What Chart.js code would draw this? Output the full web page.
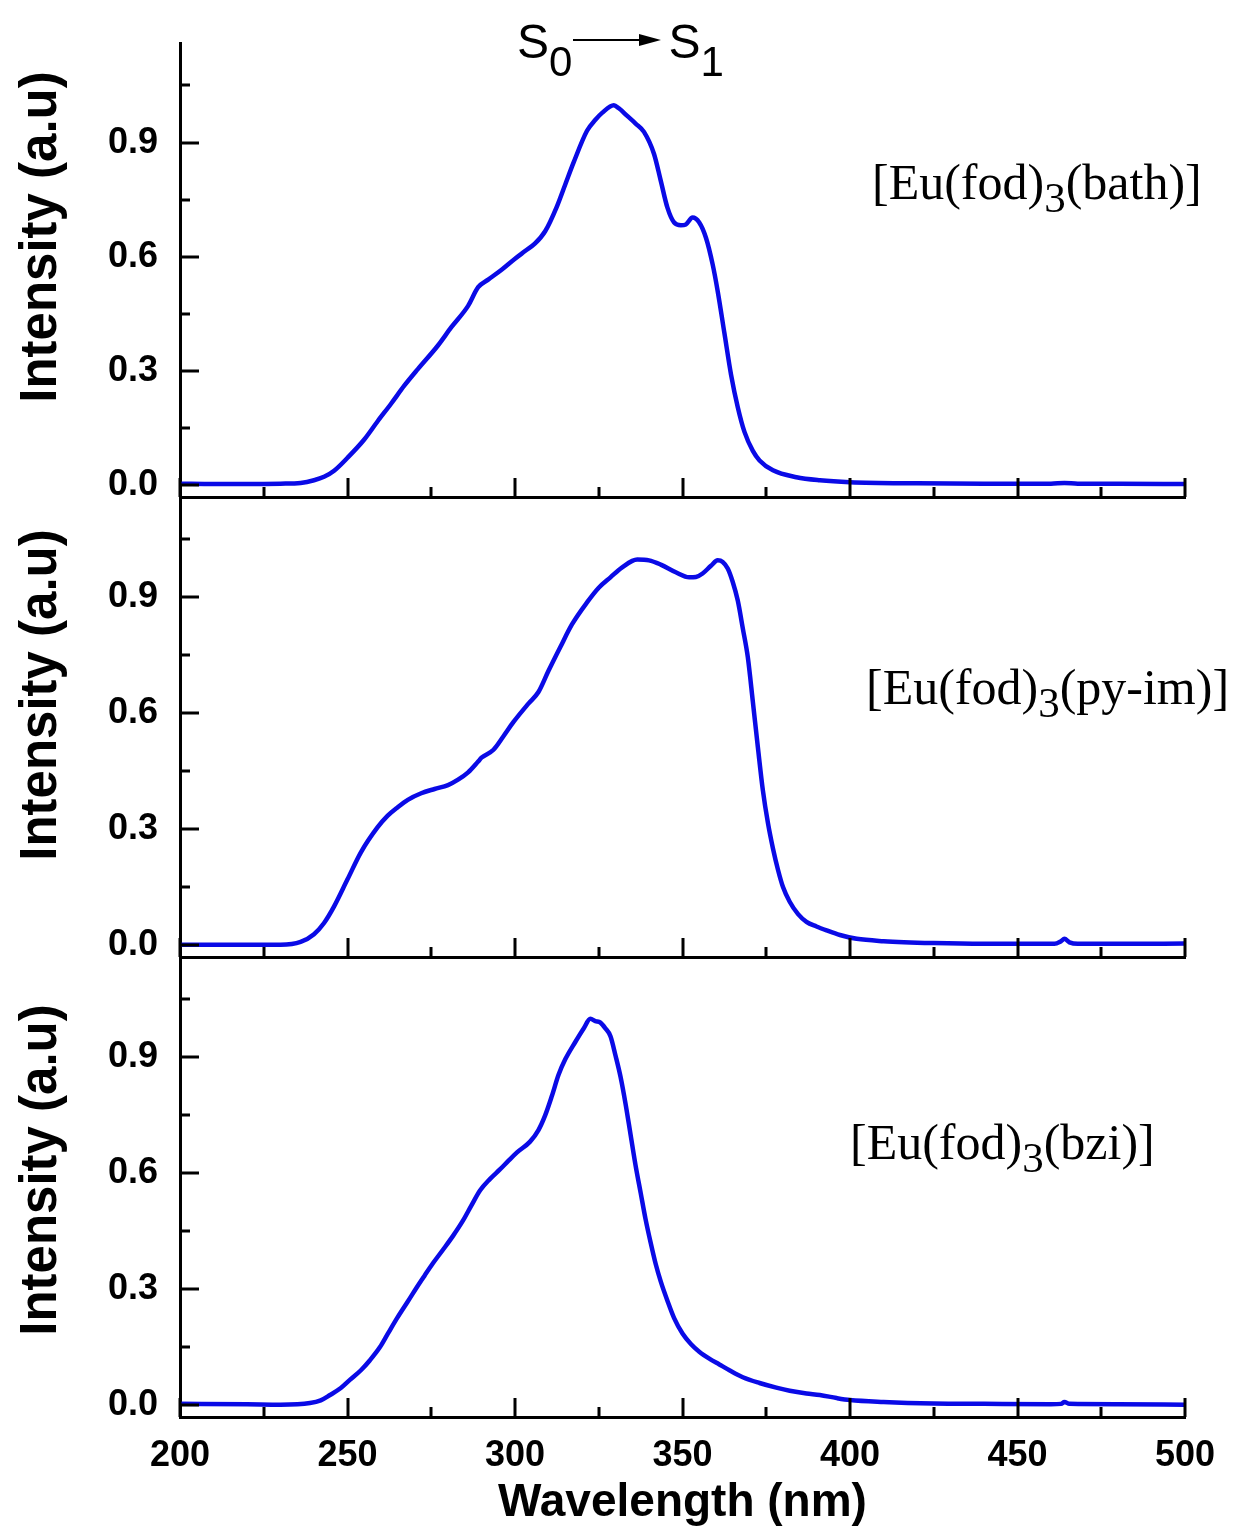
<!DOCTYPE html>
<html>
<head>
<meta charset="utf-8">
<script src="https://cdn.jsdelivr.net/npm/chart.js@4.4.1/dist/chart.umd.min.js"></script>
<style>
  body { margin: 0; background: #fff; }
  #wrap { position: relative; width: 1237px; height: 1532px; overflow: hidden; }
  #wrap canvas { position: absolute; left: 0; top: 0; }
  .ytitle {
    position: absolute; left: 38px;
    font: bold 51px 'Liberation Sans', Arial, sans-serif;
    white-space: nowrap; line-height: 1;
    transform: translate(-50%, -50%) rotate(-90deg);
  }
  .cmp {
    position: absolute; white-space: nowrap; line-height: 1;
    font: 50px 'Liberation Serif', 'Times New Roman', serif;
  }
  .cmp sub { font-size: 43px; vertical-align: -13px; line-height: 0; }
  #trans {
    position: absolute; left: 517px; top: 14px; white-space: nowrap; line-height: 1;
    font: 48px 'Liberation Sans', Arial, sans-serif;
  }
  #trans sub { font-size: 42px; vertical-align: -18px; line-height: 0; }
  #arrow { position: absolute; left: 573px; top: 30px; }
</style>
</head>
<body>
<div id="wrap">
  <canvas id="c1" width="1237" height="1532"></canvas>
  <canvas id="c2" width="1237" height="1532"></canvas>
  <canvas id="c3" width="1237" height="1532"></canvas>

  <div class="ytitle" style="top:237px">Intensity (a.u)</div>
  <div class="ytitle" style="top:695px">Intensity (a.u)</div>
  <div class="ytitle" style="top:1170px">Intensity (a.u)</div>

  <div class="cmp" style="left:872px; top:153px">[Eu(fod)<sub>3</sub>(bath)]</div>
  <div class="cmp" style="left:866px; top:658px">[Eu(fod)<sub>3</sub>(py-im)]</div>
  <div class="cmp" style="left:850px; top:1113px">[Eu(fod)<sub>3</sub>(bzi)]</div>

  <div id="trans">S<sub>0</sub><span style="display:inline-block;width:96px"></span>S<sub>1</sub></div>
  <svg id="arrow" width="92" height="20" viewBox="0 0 92 20">
    <line x1="0" y1="10" x2="68" y2="10" stroke="#000" stroke-width="2"/>
    <polygon points="66,4 88,10 66,16" fill="#000"/>
  </svg>
</div>

<script>
// 横軸・縦軸の目盛り
const xTicks = [200, 250, 300, 350, 400, 450, 500];
const yTicks = [0, 0.3, 0.6, 0.9];

// [Eu(fod)3(bath)]
const bathNm = [200, 210, 220, 230, 236, 240, 243, 246, 250, 255, 259, 263, 267, 271, 277, 281, 286, 289, 292, 296,
  300, 303, 306, 309, 312.5, 315, 317.5, 321.5, 324, 326, 329.5, 331, 333.5, 336, 338.5, 341.5, 343.5, 345.5, 347.5, 349.5,
  351, 353, 355, 357, 359, 360.5, 362.5, 364.5, 366.5, 368.5, 371, 373, 377, 384, 391, 400, 420, 440, 460, 464,
  468, 480, 500];
const bathInt = [0.004, 0.003, 0.003, 0.004, 0.006, 0.013, 0.022, 0.038, 0.072, 0.120, 0.168, 0.214, 0.262, 0.305, 0.367, 0.415, 0.471, 0.520, 0.540, 0.566,
  0.595, 0.615, 0.635, 0.667, 0.732, 0.790, 0.848, 0.931, 0.960, 0.978, 0.998, 0.990, 0.970, 0.950, 0.928, 0.870, 0.800, 0.729, 0.690, 0.683,
  0.685, 0.703, 0.690, 0.650, 0.580, 0.510, 0.400, 0.290, 0.205, 0.140, 0.090, 0.065, 0.039, 0.021, 0.013, 0.008, 0.005, 0.004, 0.004, 0.006,
  0.004, 0.004, 0.003];

// [Eu(fod)3(py-im)]
const pyimNm = [200, 220, 230, 236, 240, 243, 246, 250, 254, 259, 262, 265, 268, 272, 276, 280, 283, 286, 289, 290,
  293.5, 296.5, 299.5, 304, 307, 310, 313.5, 317, 321.5, 325, 328.5, 332, 336.5, 340, 343.5, 348, 352, 354, 356, 358.5,
  360.5, 362, 363.5, 365, 366.5, 368, 369.5, 371, 372.5, 374, 375.5, 377, 378.5, 380, 382, 384.5, 387, 390, 393, 397,
  402, 410, 425, 440, 455, 461, 463, 464, 465.5, 468, 480, 500];
const pyimInt = [0.001, 0.001, 0.001, 0.008, 0.028, 0.057, 0.100, 0.170, 0.240, 0.305, 0.335, 0.357, 0.376, 0.393, 0.404, 0.414, 0.428, 0.447, 0.475, 0.485,
  0.505, 0.540, 0.577, 0.625, 0.655, 0.710, 0.771, 0.830, 0.887, 0.925, 0.952, 0.978, 0.998, 0.996, 0.985, 0.965, 0.952, 0.953, 0.962, 0.982,
  0.996, 0.992, 0.975, 0.940, 0.892, 0.820, 0.745, 0.630, 0.512, 0.400, 0.316, 0.250, 0.195, 0.150, 0.112, 0.080, 0.060, 0.048, 0.038, 0.026,
  0.016, 0.010, 0.005, 0.003, 0.003, 0.003, 0.010, 0.016, 0.007, 0.003, 0.003, 0.004];

// [Eu(fod)3(bzi)]
const bziNm = [200, 220, 230, 238.8, 242, 244.8, 248, 250.7, 254, 256.7, 259.7, 262, 264.8, 268, 270.7, 273, 275.5, 278.5, 281.5, 284.5,
  287, 289.6, 292.5, 295.5, 298, 300.6, 304.5, 307, 309, 311, 313, 315, 318, 320.5, 322.5, 324, 325.5, 327, 328.5, 330,
  331.5, 333, 334.5, 336, 337.5, 339, 340.5, 342, 343.5, 345.5, 347.5, 350, 352.5, 355, 358, 361, 364, 368, 373, 378,
  382, 387, 391, 396, 400, 410, 425, 440, 460, 463, 464, 465.5, 480, 500];
const bziInt = [0.003, 0.002, 0.001, 0.005, 0.012, 0.026, 0.044, 0.065, 0.090, 0.116, 0.150, 0.184, 0.225, 0.268, 0.305, 0.335, 0.367, 0.402, 0.438, 0.478,
  0.517, 0.556, 0.585, 0.610, 0.632, 0.654, 0.682, 0.712, 0.750, 0.800, 0.855, 0.895, 0.940, 0.975, 1.000, 0.994, 0.990, 0.975, 0.955, 0.905,
  0.850, 0.780, 0.700, 0.620, 0.550, 0.480, 0.420, 0.365, 0.320, 0.270, 0.225, 0.185, 0.158, 0.138, 0.120, 0.105, 0.090, 0.072, 0.057, 0.045,
  0.037, 0.030, 0.026, 0.018, 0.013, 0.008, 0.004, 0.003, 0.002, 0.003, 0.008, 0.003, 0.002, 0.001];

const LINE_COLOR = '#0a0ae6';
const FONT = "'Liberation Sans', Arial, sans-serif";

// 内向きの目盛り線（主目盛り・補助目盛り）
const innerTicks = {
  id: 'innerTicks',
  afterDraw(chart) {
    const { ctx, chartArea, scales } = chart;
    ctx.save();
    ctx.strokeStyle = '#000';
    ctx.lineWidth = 3;
    ctx.beginPath();
    for (let v = 200; v <= 500; v += 25) {
      const px = Math.round(scales.x.getPixelForValue(v));
      const len = v % 50 === 0 ? 19 : 10;
      ctx.moveTo(px, chartArea.bottom);
      ctx.lineTo(px, chartArea.bottom - len);
    }
    for (let i = 0; i <= 7; i++) {
      const py = Math.round(scales.y.getPixelForValue(i * 0.15));
      const len = i % 2 === 0 ? 19 : 10;
      ctx.moveTo(chartArea.left, py);
      ctx.lineTo(chartArea.left + len, py);
    }
    ctx.stroke();
    ctx.restore();
  }
};

function makePanel(id, nm, vals, top, bottom, showX) {
  const data = nm.map((x, i) => ({ x: x, y: vals[i] }));
  return new Chart(document.getElementById(id), {
    type: 'line',
    data: {
      datasets: [{
        data: data,
        borderColor: LINE_COLOR,
        borderWidth: 4.5,
        pointRadius: 0,
        fill: false,
        cubicInterpolationMode: 'monotone'
      }]
    },
    options: {
      responsive: false,
      animation: false,
      events: [],
      layout: { padding: { top: top, bottom: 1532 - bottom - (showX ? 115 : 0), left: 0, right: 52 } },
      plugins: { legend: { display: false }, tooltip: { enabled: false } },
      scales: {
        x: {
          type: 'linear',
          min: 200,
          max: 500,
          afterBuildTicks: s => { s.ticks = xTicks.map(v => ({ value: v })); },
          afterFit: s => { s.height = showX ? 115 : 0; },
          grid: { display: false, drawTicks: false },
          border: { display: true, color: '#000', width: 3 },
          ticks: {
            display: showX,
            color: '#000',
            padding: 17,
            maxRotation: 0,
            font: { family: FONT, size: 36, weight: 'bold' }
          },
          title: {
            display: showX,
            text: 'Wavelength (nm)',
            color: '#000',
            padding: { top: 0, bottom: 1 },
            font: { family: FONT, size: 46, weight: 'bold' }
          }
        },
        y: {
          type: 'linear',
          min: -0.031,
          max: 1.16,
          afterBuildTicks: s => { s.ticks = yTicks.map(v => ({ value: v })); },
          afterFit: s => { s.width = 180; },
          grid: { display: false, drawTicks: false },
          border: { display: true, color: '#000', width: 3 },
          ticks: {
            color: '#000',
            padding: 22,
            callback: v => v.toFixed(1),
            font: { family: FONT, size: 36, weight: 'bold' }
          }
        }
      }
    },
    plugins: [innerTicks]
  });
}

makePanel('c1', bathNm, bathInt, 36, 497, false);
makePanel('c2', pyimNm, pyimInt, 497, 957, false);
makePanel('c3', bziNm, bziInt, 957, 1417, true);
</script>
</body>
</html>
